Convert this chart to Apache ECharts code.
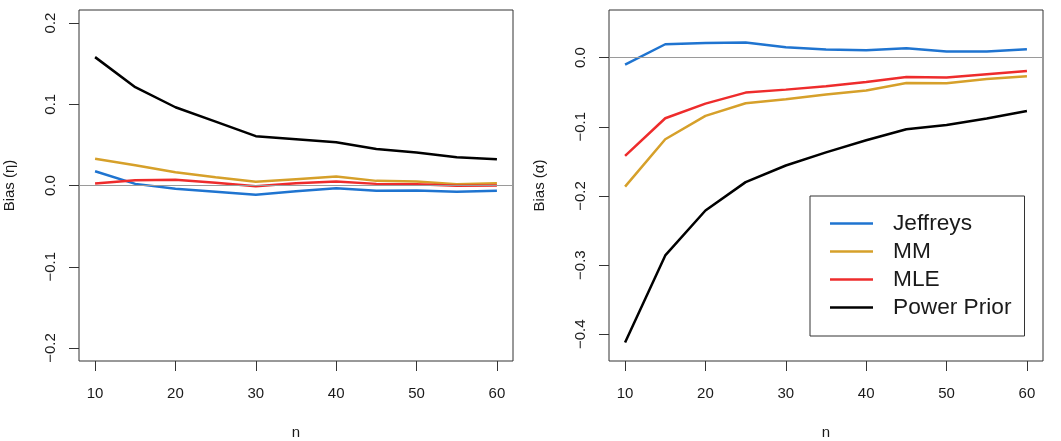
<!DOCTYPE html>
<html><head><meta charset="utf-8">
<script src="https://cdn.jsdelivr.net/npm/echarts@6/dist/echarts.min.js"></script>
<style>html,body{margin:0;padding:0;background:#fff}#c{width:1061px;height:441px}</style>
</head><body><div id="c"></div>
<script>
const nValues = [10,15,20,25,30,35,40,45,50,55,60];
const xTicks = [10,20,30,40,50,60];
const etaTicks = [-0.2,-0.1,0,0.1,0.2];
const alphaTicks = [-0.4,-0.3,-0.2,-0.1,0];
const seriesNames = ['Jeffreys','MM','MLE','Power Prior'];
const seriesColors = ['#1F74D0','#D6A02A','#EE2C2C','#000000'];
const etaJeffreys = [0.0176,0.002,-0.004,-0.0078,-0.0115,-0.007,-0.0033,-0.0066,-0.0061,-0.0078,-0.0066];
const etaMM = [0.0328,0.025,0.0164,0.0102,0.0045,0.0078,0.011,0.0057,0.0049,0.0016,0.0029];
const etaMLE = [0.0025,0.0066,0.007,0.0033,-0.0008,0.0029,0.0049,0.002,0.0016,-0.0004,0];
const etaPower = [0.158,0.121,0.0963,0.0786,0.0607,0.057,0.0533,0.045,0.0406,0.0348,0.0324];
const alphaJeffreys = [-0.0101,0.0193,0.0212,0.0217,0.0149,0.0116,0.0106,0.0135,0.0087,0.0087,0.012];
const alphaMM = [-0.1865,-0.118,-0.0843,-0.066,-0.0602,-0.0535,-0.0477,-0.0366,-0.0371,-0.031,-0.027];
const alphaMLE = [-0.142,-0.0877,-0.0665,-0.0506,-0.0463,-0.0414,-0.0352,-0.028,-0.0289,-0.0241,-0.0193];
const alphaPower = [-0.412,-0.286,-0.221,-0.180,-0.156,-0.137,-0.1195,-0.1036,-0.0973,-0.088,-0.0771];

const font = '"Liberation Sans", Arial, Helvetica, sans-serif';
const txt = '#1a1a1a';
function fmt(v){ return (v < -1e-9 ? '\u2212' : '') + Math.abs(v).toFixed(1); }
function xAx(gi){
  return {type:'value', gridIndex:gi, min:8, max:62, name:'n', nameLocation:'middle', nameGap:64,
    nameTextStyle:{fontFamily:font,fontSize:15,color:txt},
    axisLine:{show:false,onZero:false},
    axisTick:{show:true,length:10,customValues:xTicks,lineStyle:{color:'#333',width:1}},
    axisLabel:{customValues:xTicks,margin:25,fontFamily:font,fontSize:15,color:txt},
    splitLine:{show:false}};
}
function yAx(gi,min,max,ticks,name){
  return {type:'value', gridIndex:gi, min:min, max:max, name:name, nameLocation:'middle', nameGap:62,
    nameTextStyle:{fontFamily:font,fontSize:15,color:txt},
    axisLine:{show:false,onZero:false},
    axisTick:{show:true,length:10,customValues:ticks,lineStyle:{color:'#333',width:1}},
    axisLabel:{customValues:ticks,margin:21,rotate:90,fontFamily:font,fontSize:15,color:txt,formatter:fmt},
    splitLine:{show:false}};
}
function line(i,data,gi){
  const c = seriesColors[i];
  return {type:'line', name:seriesNames[i], xAxisIndex:gi, yAxisIndex:gi,
    data:nValues.map((n,k)=>[n,data[k]]), showSymbol:false, symbol:'none',
    lineStyle:{width:2.5,color:c}, itemStyle:{color:c}, silent:true, z:3};
}
function zero(gi){
  return {type:'line', xAxisIndex:gi, yAxisIndex:gi, data:[], silent:true, z:2,
    markLine:{silent:true, symbol:'none', animation:false, label:{show:false},
      lineStyle:{color:'#9a9a9a',width:1,type:'solid'}, data:[{yAxis:0}]}};
}
const chart = echarts.init(document.getElementById('c'));
chart.setOption({
  animation:false,
  backgroundColor:'#fff',
  grid:[
    {left:79, top:10, width:434, height:351, show:true, borderColor:'#333', borderWidth:1, backgroundColor:'transparent', containLabel:false, outerBoundsMode:'none'},
    {left:609, top:10, width:434, height:351, show:true, borderColor:'#333', borderWidth:1, backgroundColor:'transparent', containLabel:false, outerBoundsMode:'none'}
  ],
  xAxis:[xAx(0), xAx(1)],
  yAxis:[yAx(0,-0.216,0.216,etaTicks,'Bias (\u03b7)'), yAx(1,-0.4386,0.0688,alphaTicks,'Bias (\u03b1)')],
  legend:{data:seriesNames, orient:'vertical', left:810, top:196, selectedMode:false, icon:'rect',
    borderColor:'#333', borderWidth:1, padding:[16,13,17,20], itemGap:5, itemWidth:43, itemHeight:2.5,
    textStyle:{fontFamily:font,fontSize:22.7,color:txt,padding:[0,0,0,15]}},
  series:[
    zero(0),
    line(0,etaJeffreys,0), line(1,etaMM,0), line(2,etaMLE,0), line(3,etaPower,0),
    zero(1),
    line(0,alphaJeffreys,1), line(1,alphaMM,1), line(2,alphaMLE,1), line(3,alphaPower,1)
  ]
});
</script></body></html>
